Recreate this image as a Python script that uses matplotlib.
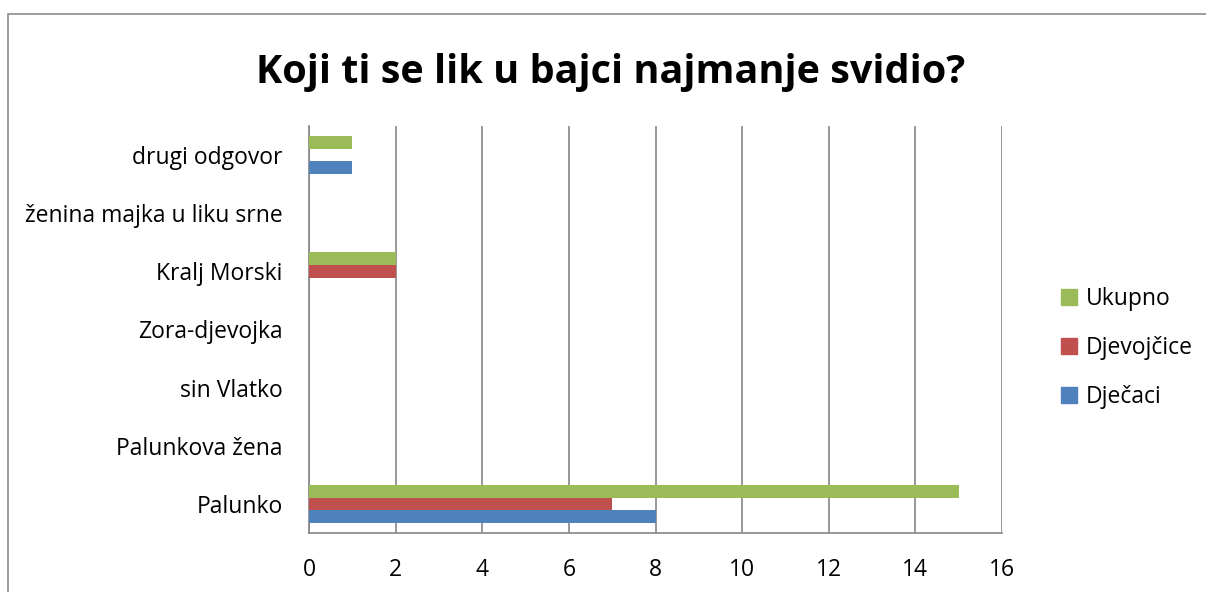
import numpy as np
import matplotlib
matplotlib.use("Agg")
import matplotlib.pyplot as plt
from matplotlib.patches import Rectangle, Patch

categories = ["Palunko", "Palunkova žena", "sin Vlatko", "Zora-djevojka",
              "Kralj Morski", "ženina majka u liku srne", "drugi odgovor"]
djecaci = [8, 0, 0, 0, 0, 0, 1]
djevojcice = [7, 0, 0, 0, 2, 0, 0]
ukupno = [15, 0, 0, 0, 2, 0, 1]
series_names = ["Dječaci", "Djevojčice", "Ukupno"]
colors = ["#4F81BD", "#C0504D", "#9BBB59"]
xticks = [0, 2, 4, 6, 8, 10, 12, 14, 16]

plt.rcParams["font.family"] = ["Open Sans", "DejaVu Sans"]

fig = plt.figure(figsize=(12.06, 5.92), dpi=100)
fig.patches.append(Rectangle((8 / 1206, -0.2), 1.2, 1.2 - 14 / 592,
                             transform=fig.transFigure, fill=False,
                             edgecolor="#8c8c8c", linewidth=1.2))

ax = fig.add_axes([309 / 1206, 1 - 533 / 592, 693 / 1206, 407 / 592])
y = np.arange(len(categories))
h = 0.22
for k, (vals, name, c) in enumerate(zip([djecaci, djevojcice, ukupno], series_names, colors)):
    ax.barh(y + (k - 1) * h, vals, height=h, color=c, label=name, zorder=3)

ax.set_xlim(0, 16)
ax.set_ylim(-0.5, len(categories) - 0.5)
ax.set_xticks(xticks)
ax.set_yticks(y)
ax.set_yticklabels(categories)
ax.tick_params(axis="both", length=0, labelsize=16.5, colors="black")
ax.tick_params(axis="x", pad=18)
ax.tick_params(axis="y", pad=19)
ax.grid(axis="x", color="#868686", linewidth=1.2, zorder=0)
for s in ["top", "right"]:
    ax.spines[s].set_visible(False)
for s in ["left", "bottom"]:
    ax.spines[s].set_color("#868686")
    ax.spines[s].set_linewidth(1.2)

fig.text(611 / 1206, 1 - 72 / 592, "Koji ti se lik u bajci najmanje svidio?",
         ha="center", va="center", fontsize=28.5, fontweight="bold")

handles = [Patch(color=c) for c in colors][::-1]
fig.legend(handles, series_names[::-1], loc="center left",
           bbox_to_anchor=(1040 / 1206, 1 - 348 / 592), frameon=False,
           fontsize=16.5, handlelength=0.7, handleheight=0.7,
           handletextpad=0.4, labelspacing=1.1)

fig.savefig("out.png", dpi=100)
